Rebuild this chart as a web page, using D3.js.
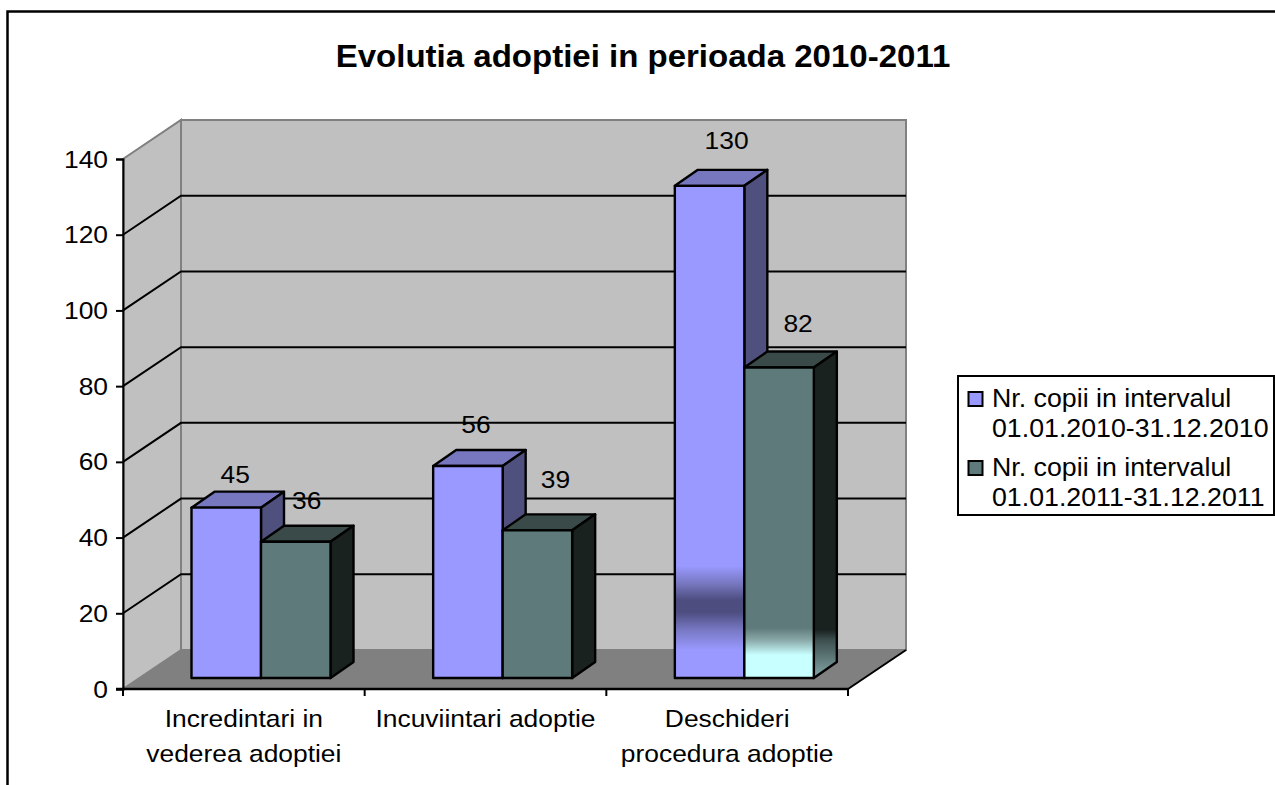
<!DOCTYPE html>
<html><head><meta charset="utf-8">
<script src="https://cdn.jsdelivr.net/npm/d3@7/dist/d3.min.js"></script>
<style>html,body{margin:0;padding:0;background:#fff;overflow:hidden}svg{display:block}text{font-family:"Liberation Sans",Arial,sans-serif;fill:#000}</style>
</head><body><svg id="c" width="1275" height="785"></svg>
<script>
const titleText = "Evolutia adoptiei in perioada 2010-2011";
const categories = ["Incredintari in|vederea adoptiei", "Incuviintari adoptie", "Deschideri|procedura adoptie"];
const seriesNames = ["Nr. copii in intervalul|01.01.2010-31.12.2010", "Nr. copii in intervalul|01.01.2011-31.12.2011"];
const series2010 = [45, 56, 130];
const series2011 = [36, 39, 82];
const yTicks = [0, 20, 40, 60, 80, 100, 120, 140];

// layout
const svg = d3.select("#c");
const W = {dx: 58, dy: -39};       // wall depth
const B = {dx: 23, dy: -16};       // bar depth
const baseLift = 11;               // bars stand inside the floor
const y = d3.scaleLinear().domain([0, 140]).range([689, 159]);
const x = d3.scaleBand().domain(categories).range([123, 848]);
const seriesKeys = [0, 1];
const xs = d3.scaleBand().domain(seriesKeys).range([68.5, 207.5]);
const fs = 24, stretch = 1.1;
const pts = a => a.map(p => p.join(",")).join(" ");

function label(g, str, px, py, size, anchor, weight, sx) {
  const t = g.append("text").attr("font-size", size).attr("text-anchor", anchor)
    .attr("transform", `translate(${px},${py}) scale(${sx || stretch},1)`).text(str);
  if (weight) t.attr("font-weight", weight);
  return t;
}

// frame
svg.append("path").attr("d", "M7.5,785V11.5H1275").attr("fill", "none").attr("stroke", "#000").attr("stroke-width", 2.5);

// title
label(svg, titleText, 643, 67, 31, "middle", "bold", 1.065);

const yT = y(140), yB = y(0), xL = x.range()[0], xR = x.range()[1];

// walls and floor
const wallStroke = "#808080";
svg.append("polygon").attr("points", pts([[xL, yB], [xL + W.dx, yB + W.dy], [xL + W.dx, yT + W.dy], [xL, yT]]))
  .attr("fill", "#c0c0c0").attr("stroke", wallStroke).attr("stroke-width", 2);
svg.append("rect").attr("x", xL + W.dx).attr("y", yT + W.dy).attr("width", xR - xL).attr("height", yB - yT)
  .attr("fill", "#c0c0c0").attr("stroke", wallStroke).attr("stroke-width", 2);
svg.append("polygon").attr("points", pts([[xL, yB], [xL + W.dx, yB + W.dy], [xR + W.dx, yB + W.dy], [xR, yB]]))
  .attr("fill", "#808080");

// gridlines
const gridVals = yTicks.filter(v => v > 0 && v < 140);
svg.append("g").selectAll("polyline").data(gridVals).join("polyline")
  .attr("points", v => pts([[xL, y(v)], [xL + W.dx, y(v) + W.dy], [xR + W.dx, y(v) + W.dy]]))
  .attr("fill", "none").attr("stroke", "#000").attr("stroke-width", 2);

// floor front-right edge + axes
svg.append("line").attr("x1", xR).attr("y1", yB).attr("x2", xR + W.dx).attr("y2", yB + W.dy).attr("stroke", "#000").attr("stroke-width", 2);

const yAxis = d3.axisLeft(y).tickValues(yTicks).tickSize(7).tickFormat("");
const gy = svg.append("g").attr("transform", `translate(${xL},0)`).call(yAxis);
gy.selectAll("line,path").attr("stroke", "#000").attr("stroke-width", 2);
yTicks.forEach(v => label(svg, String(v), xL - 15, y(v) + 8.5, fs, "end"));

svg.append("line").attr("x1", xL - 7).attr("x2", xR).attr("y1", yB).attr("y2", yB).attr("stroke", "#000").attr("stroke-width", 2.5);
const boundaries = categories.map(c => x(c)).concat([xR]);
svg.append("g").selectAll("line").data(boundaries).join("line")
  .attr("x1", d => d).attr("x2", d => d).attr("y1", yB).attr("y2", yB + 7).attr("stroke", "#000").attr("stroke-width", 2);

// category labels
categories.forEach(c => {
  const lines = c.split("|"), cx = x(c) + x.bandwidth() / 2;
  lines.forEach((l, i) => label(svg, l, cx, (i ? 762 : 727), 24, "middle", null, 1.1));
});

// colours
const faces = [
  {front: "#9999ff", top: "#7777c0", side: "#50507f"},
  {front: "#5f7a7a", top: "#3a4a48", side: "#1a2220"}
];
// reflections on the tallest bars
const defs = svg.append("defs");
function grad(id, stops) {
  const g = defs.append("linearGradient").attr("id", id).attr("gradientUnits", "userSpaceOnUse")
    .attr("x1", 0).attr("x2", 0).attr("y1", 540).attr("y2", 680);
  stops.forEach(s => g.append("stop").attr("offset", (s[0] - 540) / 140).attr("stop-color", s[1]));
}
grad("g0", [[566, "#9999ff"], [585, "#7474bb"], [600, "#4d4d80"], [612, "#4d4d80"], [630, "#7878c4"], [650, "#9999ff"]]);
grad("g1", [[628, "#5f7a7a"], [640, "#8aa8a8"], [655, "#c8ffff"]]);
grad("g1s", [[630, "#1a2220"], [640, "#3d4f4f"], [675, "#7fa0a0"]]);

// bars
const datasets = [series2010, series2011];
const nudge = [[[9, -33], [8, -42], [17, -45]], [[11, -41], [18, -51], [19, -44]]];
const barsG = svg.append("g");
const labelsG = svg.append("g");
categories.forEach((c, ci) => {
  seriesKeys.forEach(si => {
    const v = datasets[si][ci];
    const bx = x(c) + xs(si), bw = xs.bandwidth();
    const yTop = y(v) - baseLift, yBase = y(0) - baseLift;
    const tall = ci === 2;
    const g = barsG.append("g").attr("stroke", "#000").attr("stroke-width", 2.4).attr("stroke-linejoin", "round");
    g.append("polygon").attr("points", pts([[bx, yTop], [bx + B.dx, yTop + B.dy], [bx + bw + B.dx, yTop + B.dy], [bx + bw, yTop]]))
      .attr("fill", faces[si].top);
    g.append("polygon").attr("points", pts([[bx + bw, yTop], [bx + bw + B.dx, yTop + B.dy], [bx + bw + B.dx, yBase + B.dy], [bx + bw, yBase]]))
      .attr("fill", tall && si === 1 ? "url(#g1s)" : faces[si].side);
    g.append("rect").attr("x", bx).attr("y", yTop).attr("width", bw).attr("height", yBase - yTop)
      .attr("fill", tall ? `url(#g${si})` : faces[si].front);
    const n = nudge[si][ci];
    label(labelsG, String(v), bx + bw / 2 + n[0], yTop + n[1] + 8.5, fs, "middle");
  });
});

// legend
const lg = svg.append("g");
lg.append("rect").attr("x", 958).attr("y", 376).attr("width", 316).attr("height", 139).attr("fill", "#fff").attr("stroke", "#000").attr("stroke-width", 2);
const rows = [407, 476];
seriesNames.forEach((s, i) => {
  lg.append("rect").attr("x", 968.5).attr("y", rows[i] - 15).attr("width", 14).attr("height", 14)
    .attr("fill", faces[i].front).attr("stroke", "#000").attr("stroke-width", 2);
  s.split("|").forEach((l, j) => label(lg, l, 992, rows[i] + j * 30, 25, "start", null, 1.07));
});
</script></body></html>
